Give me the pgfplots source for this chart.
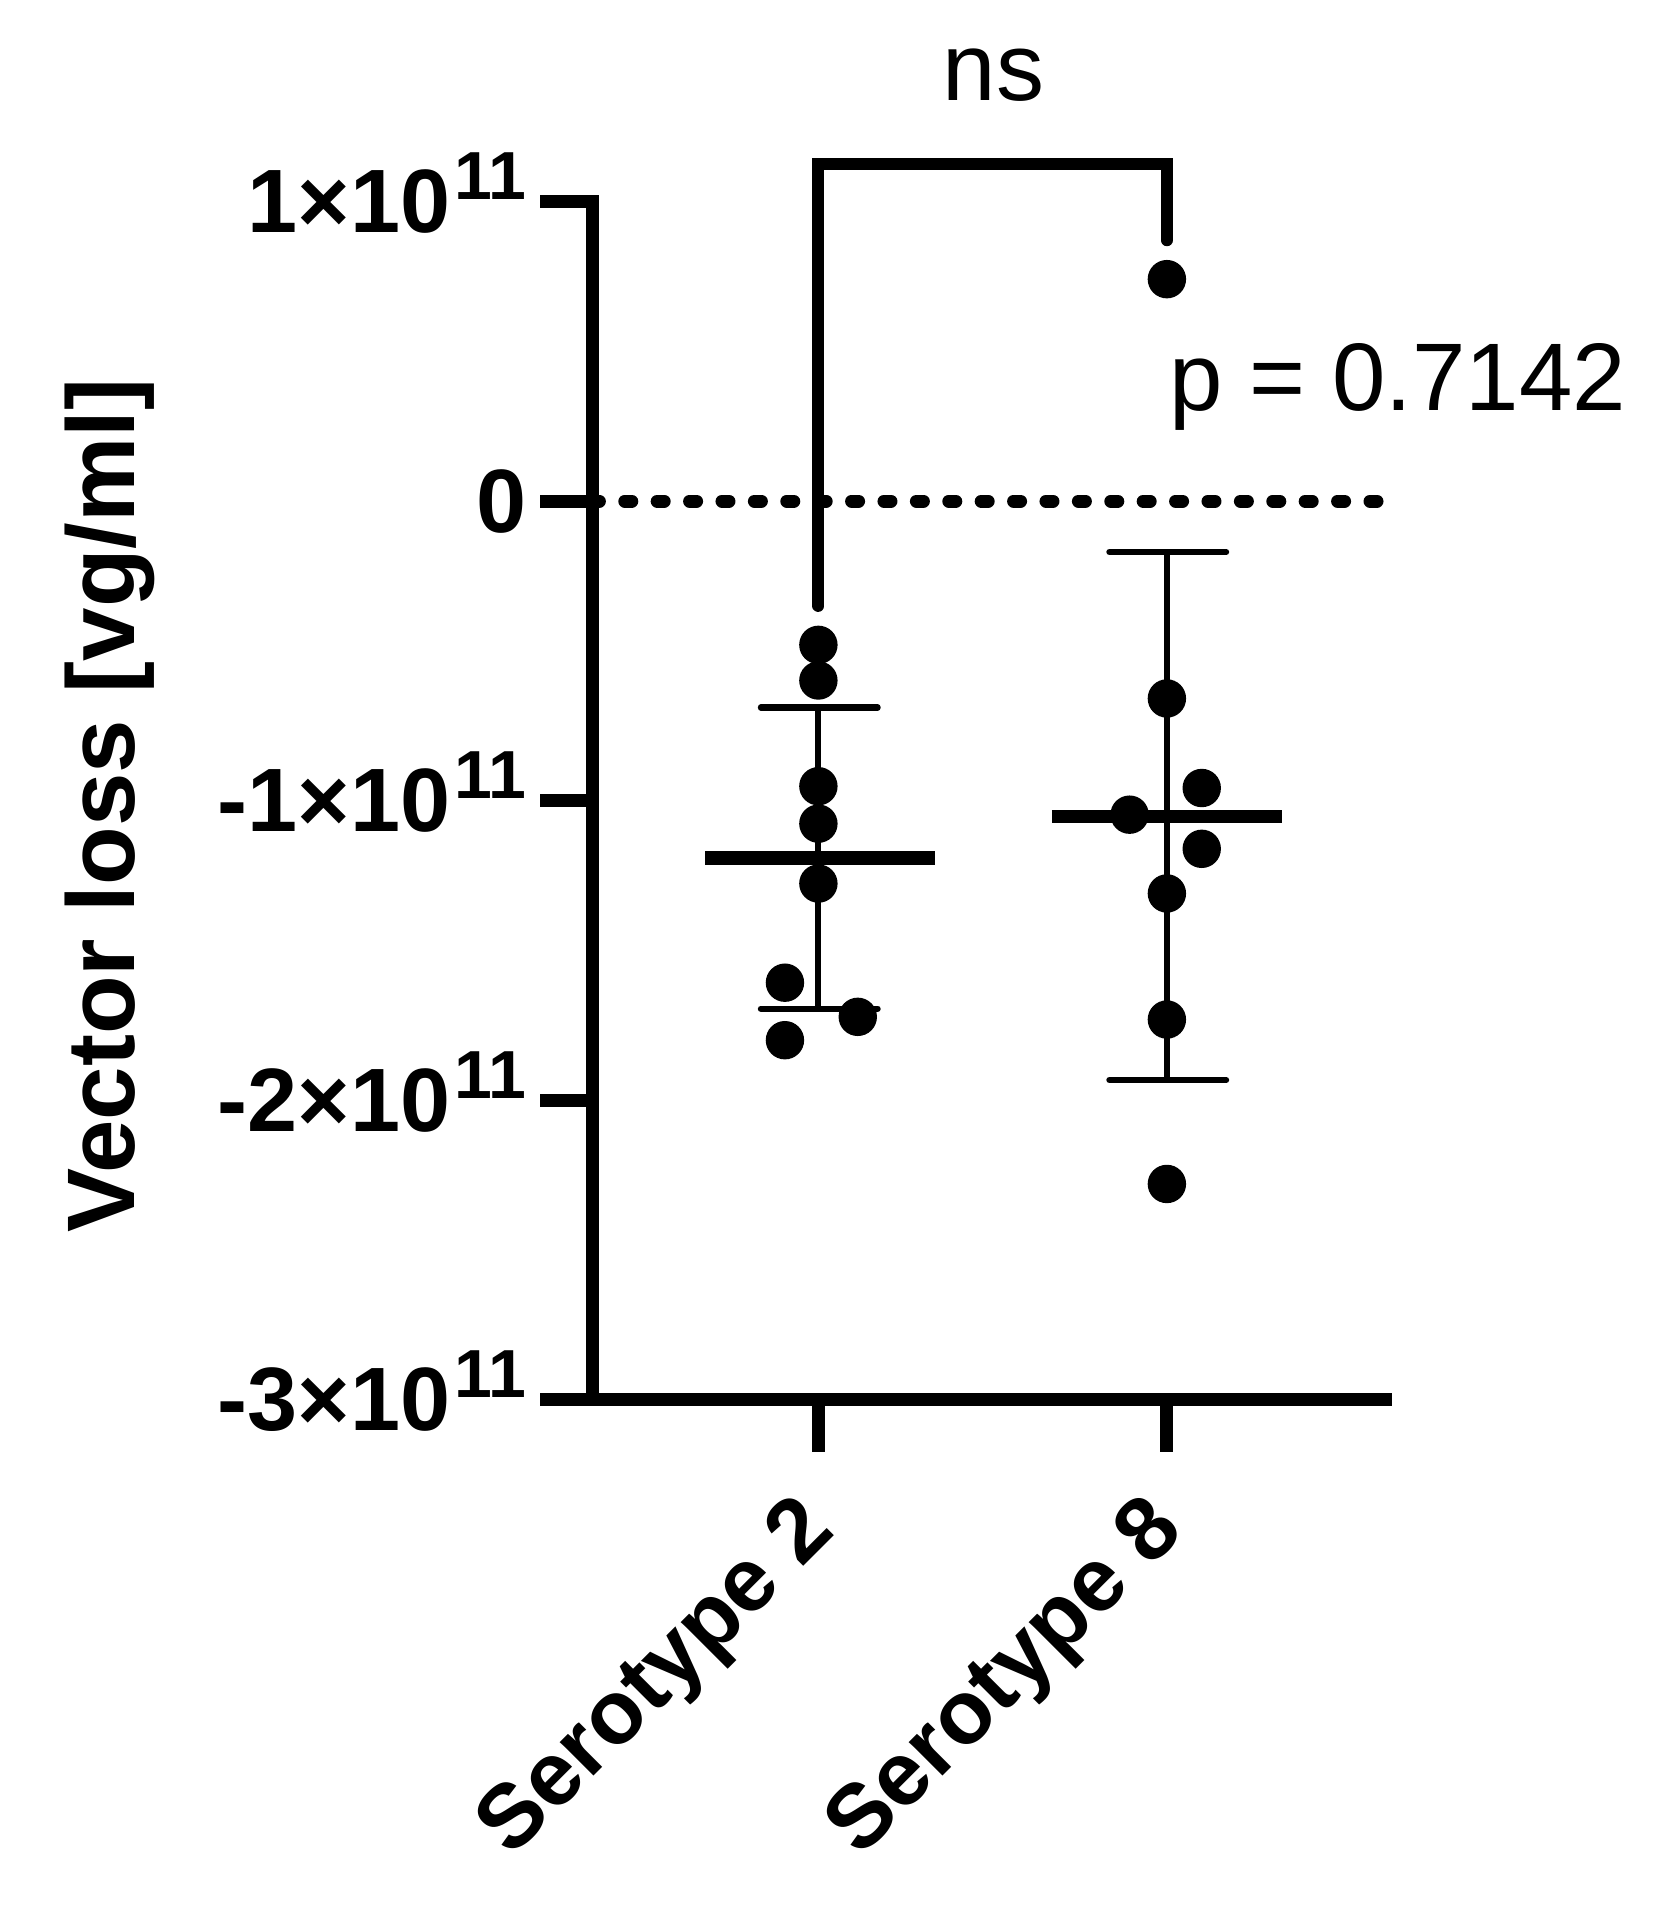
\documentclass[border=0pt]{standalone}
\usepackage{pgfplots}
\pgfplotsset{compat=1.18}
\usepackage{fontspec}
\setmainfont{Liberation Sans}

% y tick label: mantissa x 10 with a raised exponent 11
\newcommand\sci[1]{#1×10\hspace{1pt}\smash{\raisebox{8.25pt}{\fontsize{17}{17}\selectfont 11}}}

\begin{document}
\begin{tikzpicture}
\begin{axis}[
    width=198.25pt, height=299.5pt, scale only axis,
    clip=false,
    xmin=0.3515, xmax=2.627,
    ymin=-3e11, ymax=1e11,
    scaled y ticks=false,
    axis x line*=bottom, axis y line*=left,
    axis line style={-, line width=3.25pt, line cap=rect},
    tick align=outside, major tick length=13pt,
    major tick style={line width=3.25pt, black},
    xtick={1,2}, xticklabels={Serotype 2, Serotype 8},
    ytick={-3e11,-2e11,-1e11,0,1e11},
    yticklabels={\sci{-3},\sci{-2},\sci{-1},0,\sci{1}},
    minor tick num=0,
    tick label style={font=\fontsize{22.5}{22.5}\selectfont\bfseries},
    xticklabel style={rotate=45, anchor=north east, xshift=-7.5pt, yshift=1.5pt},
    ylabel={Vector loss [vg/ml]},
    ylabel style={at={(axis description cs:-0.608,0.496)}, anchor=center,
        font=\fontsize{24}{24}\selectfont\bfseries},
]
% zero line
\addplot[black, line width=3.25pt, line cap=round, dash pattern=on 1.75pt off 6.35pt]
    coordinates {(0.3515,0) (2.603,0)};

% Serotype 2: SD bar, caps, mean
\addplot[black, line width=1.55pt] coordinates {(1,-0.689e11) (1,-1.695e11)};
\addplot[black, line width=1.55pt, line cap=round] coordinates {(0.835,-0.689e11) (1.17,-0.689e11)};
\addplot[black, line width=1.55pt, line cap=round] coordinates {(0.835,-1.695e11) (1.17,-1.695e11)};
\addplot[black, line width=3.35pt] coordinates {(0.675,-1.191e11) (1.335,-1.191e11)};

% Serotype 8: SD bar, caps, mean
\addplot[black, line width=1.55pt] coordinates {(2,-0.170e11) (2,-1.933e11)};
\addplot[black, line width=1.55pt, line cap=round] coordinates {(1.835,-0.170e11) (2.17,-0.170e11)};
\addplot[black, line width=1.55pt, line cap=round] coordinates {(1.835,-1.933e11) (2.17,-1.933e11)};
\addplot[black, line width=3.35pt] coordinates {(1.67,-1.053e11) (2.33,-1.053e11)};

% individual values
\addplot[only marks, mark=*, mark size=4.6pt, mark options={draw=none, fill=black}]
    coordinates {
    (1,-0.480e11) (1,-0.599e11) (1,-0.952e11) (1,-1.077e11) (1,-1.277e11)
    (0.904,-1.608e11) (1.113,-1.722e11) (0.904,-1.800e11)
    };
\addplot[only marks, mark=*, mark size=4.6pt, mark options={draw=none, fill=black}]
    coordinates {
    (2,0.741e11) (2,-0.659e11) (2.10,-0.958e11) (1.893,-1.047e11)
    (2.10,-1.161e11) (2,-1.310e11) (2,-1.731e11) (2,-2.280e11)
    };

% significance bracket
\addplot[black, line width=3pt, line cap=round, line join=miter]
    coordinates {(1,-0.35e11) (1,1.127e11) (2,1.127e11) (2,0.871e11)};
\node[anchor=base, inner sep=0pt, font=\fontsize{24}{24}\selectfont]
    at (axis cs:1.503,1.339e11) {ns};
\node[anchor=base west, inner sep=0pt, font=\fontsize{24}{24}\selectfont]
    at (axis cs:2.006,0.304e11) {p = 0.7142};
\end{axis}
\pgfresetboundingbox
\path[use as bounding box] (-148.1pt,-126.6pt) rectangle (268.15pt,349.9pt);
\end{tikzpicture}
\end{document}
